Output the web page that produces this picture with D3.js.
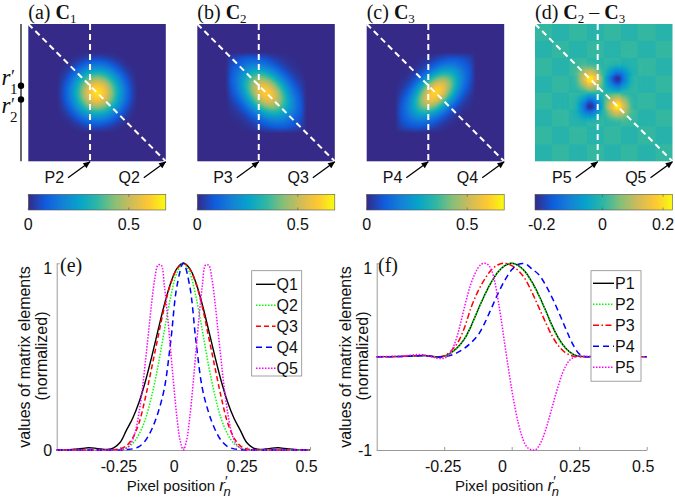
<!DOCTYPE html>
<html><head><meta charset="utf-8">
<script src="https://cdn.jsdelivr.net/npm/d3@7"></script>
<style>body{margin:0;background:#fff}svg{display:block}</style>
</head><body>
<svg id="c" width="675" height="504"></svg>
<script>
// ---------------- DATA ----------------
const parulaStops = ["#352a87","#0f5cdd","#1481d6","#06a4ca","#2eb7a4","#87bf77","#d1bb59","#fec832","#f9fb0e"];
const matrixGrid = [-0.25,-0.2,-0.15,-0.1,-0.05,0,0.05,0.1,0.15,0.2,0.25];
const C1 = [
 [0,0.004,0.014,0.032,0.048,0.055,0.048,0.032,0.014,0.004,0],
 [0.004,0.02,0.055,0.1,0.14,0.155,0.14,0.1,0.055,0.02,0.004],
 [0.014,0.055,0.125,0.207,0.269,0.293,0.269,0.207,0.125,0.055,0.014],
 [0.032,0.1,0.207,0.319,0.415,0.452,0.415,0.319,0.207,0.1,0.032],
 [0.048,0.14,0.269,0.415,0.538,0.587,0.538,0.415,0.269,0.14,0.048],
 [0.055,0.155,0.293,0.452,0.587,0.64,0.587,0.452,0.293,0.155,0.055],
 [0.048,0.14,0.269,0.415,0.538,0.587,0.538,0.415,0.269,0.14,0.048],
 [0.032,0.1,0.207,0.319,0.415,0.452,0.415,0.319,0.207,0.1,0.032],
 [0.014,0.055,0.125,0.207,0.269,0.293,0.269,0.207,0.125,0.055,0.014],
 [0.004,0.02,0.055,0.1,0.14,0.155,0.14,0.1,0.055,0.02,0.004],
 [0,0.004,0.014,0.032,0.048,0.055,0.048,0.032,0.014,0.004,0]];
const C2 = [
 [0.037,0.059,0.079,0.088,0.081,0.063,0.040,0.022,0.010,0.004,0.001],
 [0.059,0.101,0.144,0.172,0.171,0.142,0.098,0.056,0.027,0.011,0.004],
 [0.079,0.144,0.221,0.281,0.300,0.266,0.198,0.123,0.063,0.027,0.010],
 [0.088,0.172,0.281,0.385,0.439,0.418,0.333,0.221,0.123,0.056,0.022],
 [0.081,0.171,0.300,0.439,0.537,0.548,0.467,0.333,0.198,0.098,0.040],
 [0.063,0.142,0.266,0.418,0.548,0.6,0.548,0.418,0.266,0.142,0.063],
 [0.040,0.098,0.198,0.333,0.467,0.548,0.537,0.439,0.300,0.171,0.081],
 [0.022,0.056,0.123,0.221,0.333,0.418,0.439,0.385,0.281,0.172,0.088],
 [0.010,0.027,0.063,0.123,0.198,0.266,0.300,0.281,0.221,0.144,0.079],
 [0.004,0.011,0.027,0.056,0.098,0.142,0.171,0.172,0.144,0.101,0.059],
 [0.001,0.004,0.010,0.022,0.040,0.063,0.081,0.088,0.079,0.059,0.037]];
const C3 = [
 [0,0.001,0.002,0.007,0.017,0.036,0.057,0.073,0.074,0.060,0.038],
 [0.001,0.002,0.008,0.024,0.056,0.100,0.142,0.161,0.146,0.105,0.060],
 [0.002,0.008,0.027,0.069,0.139,0.222,0.281,0.284,0.228,0.146,0.074],
 [0.007,0.024,0.069,0.156,0.277,0.392,0.443,0.397,0.284,0.161,0.073],
 [0.017,0.056,0.139,0.277,0.438,0.553,0.555,0.443,0.281,0.142,0.057],
 [0.036,0.100,0.222,0.392,0.553,0.62,0.553,0.392,0.222,0.100,0.036],
 [0.057,0.142,0.281,0.443,0.555,0.553,0.438,0.277,0.139,0.056,0.017],
 [0.073,0.161,0.284,0.397,0.443,0.392,0.277,0.156,0.069,0.024,0.007],
 [0.074,0.146,0.228,0.284,0.281,0.222,0.139,0.069,0.027,0.008,0.002],
 [0.060,0.105,0.146,0.161,0.142,0.100,0.056,0.024,0.008,0.002,0.001],
 [0.038,0.060,0.074,0.073,0.057,0.036,0.017,0.007,0.002,0.001,0]];
const C23 = [
 [0,0,0.001,0.002,0.001,0,-0.001,-0.002,-0.001,0,0],
 [0,0.004,0.017,0.028,0.017,0,-0.017,-0.028,-0.017,-0.004,0],
 [0.001,0.017,0.076,0.127,0.076,0,-0.076,-0.127,-0.076,-0.017,-0.001],
 [0.002,0.028,0.127,0.21,0.125,0,-0.125,-0.21,-0.127,-0.028,-0.002],
 [0.001,0.017,0.076,0.125,0.074,0,-0.074,-0.125,-0.076,-0.017,-0.001],
 [0,0,0,0,0,0,0,0,0,0,0],
 [-0.001,-0.017,-0.076,-0.125,-0.074,0,0.074,0.125,0.076,0.017,0.001],
 [-0.002,-0.028,-0.127,-0.21,-0.125,0,0.125,0.21,0.127,0.028,0.002],
 [-0.001,-0.017,-0.076,-0.127,-0.076,0,0.076,0.127,0.076,0.017,0.001],
 [0,-0.004,-0.017,-0.028,-0.017,0,0.017,0.028,0.017,0.004,0],
 [0,0,-0.001,-0.002,-0.001,0,0.001,0.002,0.001,0,0]];
// faint block pattern in the background of C2 - C3 (8 x 8 blocks)
const C23blocks = [
 [0.008,-0.006,0.008,-0.006,0.008,-0.006,0.008,-0.006],
 [-0.006,0.008,-0.006,0.008,-0.006,0.008,-0.006,0.008],
 [0.008,-0.006,0.008,-0.006,0.008,-0.006,0.008,-0.006],
 [-0.006,0.008,-0.006,0.008,-0.006,0.008,-0.006,0.008],
 [0.008,-0.006,0.008,-0.006,0.008,-0.006,0.008,-0.006],
 [-0.006,0.008,-0.006,0.008,-0.006,0.008,-0.006,0.008],
 [0.008,-0.006,0.008,-0.006,0.008,-0.006,0.008,-0.006],
 [-0.006,0.008,-0.006,0.008,-0.006,0.008,-0.006,0.008]];
const cbarDomainPos = [0, 0.684];
const cbarDomainDiff = [-0.222, 0.231];
const cbarTicksPos = [0, 0.5];
const cbarTicksDiff = [-0.2, 0, 0.2];
const pColumns = [-0.051, -0.053, -0.052, -0.044];
const pLabels = ["P2","P3","P4","P5"];
const qLabels = ["Q2","Q3","Q4","Q5"];
const rowMarks = [-0.05, 0.05];

// line profiles
const xG = [-0.5,-0.45,-0.4,-0.375,-0.35,-0.325,-0.3,-0.275,-0.25,-0.225,-0.2,-0.175,-0.15,-0.125,-0.1,-0.075,-0.05,-0.025,0,0.025,0.05,0.075,0.1,0.125,0.15,0.175,0.2,0.225,0.25,0.275,0.3,0.325,0.35,0.375,0.4,0.45,0.5];
const xFine = [-0.5,-0.45,-0.4,-0.375,-0.35,-0.325,-0.3,-0.275,
 -0.25,-0.2375,-0.225,-0.2125,-0.2,-0.1875,-0.175,-0.1625,-0.15,-0.1375,-0.125,-0.1125,-0.1,-0.0875,-0.075,-0.0625,-0.05,-0.0375,-0.025,-0.0125,0,
 0.0125,0.025,0.0375,0.05,0.0625,0.075,0.0875,0.1,0.1125,0.125,0.1375,0.15,0.1625,0.175,0.1875,0.2,0.2125,0.225,0.2375,0.25,
 0.275,0.3,0.325,0.35,0.375,0.4,0.45,0.5];
const Q1 = [0,0.002,0.008,0.012,0.01,0.005,0.003,0.012,0.04,0.105,0.17,0.256,0.367,0.499,0.641,0.778,0.895,0.973,1,0.973,0.895,0.778,0.641,0.499,0.367,0.256,0.17,0.105,0.04,0.012,0.003,0.005,0.01,0.012,0.008,0.002,0];
const Q2 = [0,0,0,0,0,0,0,0.001,0.004,0.012,0.035,0.085,0.165,0.29,0.45,0.64,0.82,0.95,1,0.95,0.82,0.64,0.45,0.29,0.165,0.085,0.035,0.012,0.004,0.001,0,0,0,0,0,0,0];
const Q3 = [0,0,0,0,0,0,0,0.002,0.006,0.022,0.065,0.145,0.28,0.44,0.605,0.765,0.89,0.97,1,0.97,0.89,0.765,0.605,0.44,0.28,0.145,0.065,0.022,0.006,0.002,0,0,0,0,0,0,0];
const Q4 = [0,0,0,0,0,0,0,0,0,0.002,0.006,0.018,0.05,0.11,0.2,0.33,0.58,0.88,1,0.88,0.58,0.33,0.2,0.11,0.05,0.018,0.006,0.002,0,0,0,0,0,0,0,0,0];
const Q5 = [0,0,0,0,0,0,0,0,
 0,0.003,0.01,0.025,0.055,0.11,0.2,0.32,0.47,0.63,0.79,0.92,0.99,0.99,0.88,0.72,0.53,0.34,0.17,0.05,0,
 0.05,0.17,0.34,0.53,0.72,0.88,0.99,0.99,0.92,0.79,0.63,0.47,0.32,0.2,0.11,0.055,0.025,0.01,0.003,0,
 0,0,0,0,0,0,0,0];
const P1 = [0,0,0.003,0.007,0.01,0.012,0.005,-0.004,0.005,0.04,0.1,0.19,0.33,0.5,0.66,0.8,0.91,0.975,1,0.975,0.91,0.8,0.66,0.5,0.33,0.19,0.09,0.03,0.004,0,0,0,0,0,0,0,0];
const P2 = [0,0,0.003,0.007,0.01,0.012,0.005,-0.004,0.005,0.04,0.1,0.19,0.33,0.5,0.66,0.8,0.91,0.975,1,0.975,0.905,0.795,0.655,0.495,0.325,0.185,0.088,0.03,0.004,0,0,0,0,0,0,0,0];
const P3 = [0,0,0.003,0.007,0.01,0.012,0.005,-0.003,0.01,0.06,0.15,0.31,0.53,0.7,0.83,0.93,0.985,1.0,0.975,0.92,0.83,0.69,0.53,0.37,0.22,0.11,0.04,0.008,0,0,0,0,0,0,0,0,0];
const P4 = [0,0,0.003,0.006,0.008,0.01,0.004,-0.004,0,0.015,0.045,0.09,0.15,0.23,0.36,0.52,0.68,0.82,0.93,0.99,0.995,0.94,0.88,0.77,0.63,0.47,0.3,0.14,0.03,0,0,0,0,0,0,0,0];
const P5 = [0,0.002,0.008,0.015,0.022,0.018,0.002,-0.018,
 -0.015,0.005,0.05,0.13,0.24,0.38,0.53,0.67,0.79,0.88,0.95,0.99,1.0,0.985,0.93,0.8,0.6,0.37,0.12,-0.12,-0.35,
 -0.55,-0.72,-0.85,-0.94,-0.985,-0.998,-0.998,-0.96,-0.89,-0.79,-0.67,-0.54,-0.41,-0.29,-0.18,-0.1,-0.045,-0.015,0,0.005,
 0.005,0.002,0,0,0,0,0,0];
const xTicks = [-0.25, 0, 0.25, 0.5];
const legendQ = ["Q1","Q2","Q3","Q4","Q5"];
const legendP = ["P1","P2","P3","P4","P5"];

// ---------------- STYLE ----------------
const SANS = "'Liberation Sans', Arial, sans-serif";
const SERIF = "'Liberation Serif', 'Times New Roman', serif";
const lineStyles = [
 {color:"#000000", dash:null, w:1.4},
 {color:"#00ff00", dash:"1.5 1.5", w:1.5},
 {color:"#ff0000", dash:"5 3", w:1.5},
 {color:"#0000ff", dash:"6 4", w:1.5},
 {color:"#ff00ff", dash:"1.5 1.5", w:1.5}];
const lineStylesP = lineStyles.map((s,i)=> i===2 ? {color:"#ff0000", dash:"6 2.5 1.5 2.5", w:1.5} : s);
const tickLabelDx = [-1.5,-9.7,-5,-4];

const svg = d3.select("#c");
const defs = svg.append("defs");
defs.append("marker").attr("id","ah").attr("markerUnits","userSpaceOnUse")
 .attr("viewBox","0 0 10 10").attr("refX",9.5).attr("refY",5)
 .attr("markerWidth",8).attr("markerHeight",7).attr("orient","auto")
 .append("path").attr("d","M0,0.5 L10,5 L0,9.5 z").attr("fill","#000");

// ---------------- HEATMAPS ----------------
const panels = [
 {x0:28.3, M:C1, dom:cbarDomainPos, ticks:cbarTicksPos, lab:"(a) ", subs:["1"]},
 {x0:197.3, M:C2, dom:cbarDomainPos, ticks:cbarTicksPos, lab:"(b) ", subs:["2"]},
 {x0:366.7, M:C3, dom:cbarDomainPos, ticks:cbarTicksPos, lab:"(c) ", subs:["3"]},
 {x0:535, M:C23, B:C23blocks, dom:cbarDomainDiff, ticks:cbarTicksDiff, lab:"(d) ", subs:["2","3"]}];
const PW = 137.5, PH = 137.3, PY = 24;
const CBY = 194.3, CBH = 15.7;

function cw(t){const t2=t*t,t3=t2*t;return [(-t3+2*t2-t)/2,(3*t3-5*t2+2)/2,(-3*t3+4*t2+t)/2,(t3-t2)/2];}
function sampleGrid(M, r1, r2){
 const n=matrixGrid.length, step=matrixGrid[1]-matrixGrid[0], r0=matrixGrid[0];
 const fi=(r1-r0)/step, fj=(r2-r0)/step;
 const i0=Math.floor(fi), j0=Math.floor(fj);
 const wi=cw(fi-i0), wj=cw(fj-j0);
 let s=0;
 for(let a=0;a<4;a++){const i=i0-1+a; if(i<0||i>=n) continue;
  for(let b=0;b<4;b++){const j=j0-1+b; if(j<0||j>=n) continue; s+=wi[a]*wj[b]*M[i][j];}}
 return s;
}

panels.forEach((p,k)=>{
 const cs = d3.scaleLinear()
  .domain(parulaStops.map((_,i)=>p.dom[0]+(p.dom[1]-p.dom[0])*i/(parulaStops.length-1)))
  .range(parulaStops).clamp(true);
 const N = 138;
 const pix = d3.scaleLinear().domain([0,N]).range([-0.5,0.5]);
 const blk = d3.scaleQuantize().domain([-0.5,0.5]).range(d3.range(8));
 const cv = document.createElement("canvas"); cv.width=N; cv.height=N;
 const ctx = cv.getContext("2d"); const img = ctx.createImageData(N,N);
 for(let py=0;py<N;py++){ const r1=pix(py+0.5);
  for(let px=0;px<N;px++){ const r2=pix(px+0.5);
   let v = sampleGrid(p.M, r1, r2); if(k<3) v=Math.max(0,v);
   if(p.B) v += p.B[blk(r1)][blk(r2)];
   const c = d3.rgb(cs(v)); const o=(py*N+px)*4;
   img.data[o]=c.r; img.data[o+1]=c.g; img.data[o+2]=c.b; img.data[o+3]=255; }}
 ctx.putImageData(img,0,0);
 svg.append("image").attr("x",p.x0).attr("y",PY).attr("width",PW).attr("height",PH)
  .attr("preserveAspectRatio","none").attr("href",cv.toDataURL());

 const sx = d3.scaleLinear().domain([-0.5,0.5]).range([p.x0,p.x0+PW]);
 const sy = d3.scaleLinear().domain([-0.5,0.5]).range([PY,PY+PH]);
 svg.append("line").attr("x1",sx(pColumns[k])).attr("x2",sx(pColumns[k])).attr("y1",sy(-0.5)).attr("y2",sy(0.5))
  .attr("stroke","#fff").attr("stroke-width",2).attr("stroke-dasharray","6 4");
 svg.append("line").attr("x1",sx(-0.5)).attr("y1",sy(-0.5)).attr("x2",sx(0.5)).attr("y2",sy(0.5))
  .attr("stroke","#fff").attr("stroke-width",2).attr("stroke-dasharray","6 4");
 const arrows = [[sx(pColumns[k]), pLabels[k]],[sx(0.5), qLabels[k]]];
 arrows.forEach(([ax,lab])=>{
  svg.append("line").attr("x1",ax-22).attr("y1",PY+PH+16.5).attr("x2",ax).attr("y2",PY+PH+0.5)
   .attr("stroke","#000").attr("stroke-width",1.3).attr("marker-end","url(#ah)");
  svg.append("text").attr("x",ax-26).attr("y",183).attr("text-anchor","end")
   .attr("font-family",SANS).attr("font-size",16).attr("fill","#111").text(lab);
 });
 const t = svg.append("text").attr("x",p.x0).attr("y",18.5).attr("font-family",SERIF).attr("font-size",20).attr("fill","#111");
 t.append("tspan").text(p.lab);
 t.append("tspan").attr("font-weight","bold").text("C");
 t.append("tspan").attr("font-size",13).attr("dy",4).text(p.subs[0]);
 if(p.subs.length>1){
  t.append("tspan").attr("dy",-4).text(" \u2013 ");
  t.append("tspan").attr("font-weight","bold").text("C");
  t.append("tspan").attr("font-size",13).attr("dy",4).text(p.subs[1]);
 }
 const gid = "cb"+k;
 const gr = defs.append("linearGradient").attr("id",gid).attr("x1","0%").attr("x2","100%").attr("y1","0%").attr("y2","0%");
 parulaStops.forEach((c,i)=>gr.append("stop").attr("offset",(100*i/(parulaStops.length-1))+"%").attr("stop-color",c));
 svg.append("rect").attr("x",p.x0).attr("y",CBY).attr("width",PW).attr("height",CBH)
  .attr("fill",`url(#${gid})`).attr("stroke","#555").attr("stroke-width",0.6);
 const cx = d3.scaleLinear().domain(p.dom).range([p.x0,p.x0+PW]);
 p.ticks.forEach(tv=>{
  svg.append("line").attr("x1",cx(tv)).attr("x2",cx(tv)).attr("y1",CBY).attr("y2",CBY+2.5).attr("stroke","#555").attr("stroke-width",0.6);
  svg.append("line").attr("x1",cx(tv)).attr("x2",cx(tv)).attr("y1",CBY+CBH).attr("y2",CBY+CBH-2.5).attr("stroke","#555").attr("stroke-width",0.6);
  svg.append("text").attr("x",cx(tv)).attr("y",229.5).attr("text-anchor","middle")
   .attr("font-family",SANS).attr("font-size",16).attr("fill","#111").text(String(tv));
 });
});

// left r' annotation
{
 const sy = d3.scaleLinear().domain([-0.5,0.5]).range([PY,PY+PH]);
 svg.append("line").attr("x1",21).attr("x2",21).attr("y1",sy(-0.5)).attr("y2",sy(0.5)).attr("stroke","#444").attr("stroke-width",1.6);
 rowMarks.forEach(r=>{
  svg.append("circle").attr("cx",21).attr("cy",sy(r)).attr("r",3.2).attr("fill","#000");
 });
 [[85,"1"],[113,"2"]].forEach(([by,s])=>{
  const tx = svg.append("text").attr("x",1.5).attr("y",by).attr("font-family",SERIF).attr("font-size",23).attr("fill","#111");
  tx.append("tspan").attr("font-style","italic").text("r");
  tx.append("tspan").attr("font-size",18).attr("dx",0.5).attr("dy",-2).text("\u2032");
  tx.append("tspan").attr("font-size",15).attr("dx",-5).attr("dy",10.5).text(s);
 });
}

// ---------------- LINE PLOTS ----------------
function linePanel(cfg){
 const x = d3.scaleLinear().domain([-0.5,0.5]).range(cfg.xr);
 const y = d3.scaleLinear().domain(cfg.yd).range([450,263.3]);
 const g = svg.append("g");
 const ax = g.append("g").attr("transform","translate(0,450)")
  .call(d3.axisBottom(x).tickValues(xTicks).tickFormat(d=>String(d)).tickSizeInner(-3).tickSizeOuter(0).tickPadding(11));
 const ay = g.append("g").attr("transform",`translate(${cfg.xr[0]},0)`)
  .call(d3.axisLeft(y).tickValues(cfg.yt).tickFormat(d=>String(d)).tickSizeInner(-3).tickSizeOuter(0).tickPadding(4.5));
 [ax,ay].forEach(a=>{
  a.select(".domain").attr("stroke","#9a9a9a");
  a.selectAll(".tick line").attr("stroke","#9a9a9a");
  a.selectAll(".tick text").attr("font-family",SANS).attr("font-size",16).attr("fill","#111");
 });
 ax.selectAll(".tick text").attr("dx",(d,i)=>tickLabelDx[i]);
 ay.selectAll(".tick text").attr("dy",d=> d===1 ? "0.62em" : "0.32em");
 const ln = d3.line().x(d=>x(d[0])).y(d=>y(d[1])).curve(d3.curveCatmullRom.alpha(0.5));
 cfg.series.forEach((s,i)=>{
  const st = cfg.styles[i];
  g.append("path").datum(s.x.map((xv,j)=>[xv,s.y[j]])).attr("d",ln).attr("fill","none")
   .attr("stroke",st.color).attr("stroke-width",st.w).attr("stroke-dasharray",st.dash);
 });
 g.append("text").attr("x",cfg.labX).attr("y",272).attr("font-family",SERIF).attr("font-size",20).attr("fill","#111").text(cfg.label);
 const L = cfg.leg;
 g.append("rect").attr("x",L.x).attr("y",L.y).attr("width",L.w).attr("height",L.h).attr("fill","#fff").attr("stroke","#8a8a8a").attr("stroke-width",0.8);
 cfg.names.forEach((n,i)=>{
  const yy = L.row0 + i*21;
  const st = cfg.styles[i];
  g.append("line").attr("x1",L.lx0).attr("x2",L.lx1).attr("y1",yy).attr("y2",yy)
   .attr("stroke",st.color).attr("stroke-width",st.w).attr("stroke-dasharray",st.dash);
  g.append("text").attr("x",L.lx1+1).attr("y",yy).attr("dy","0.36em").attr("font-family",SANS).attr("font-size",16).attr("fill","#111").text(n);
 });
 g.append("text").attr("transform",`translate(${cfg.ylx[0]},357) rotate(-90)`).attr("text-anchor","middle")
  .attr("font-family",SANS).attr("font-size",16).attr("fill","#111").text("values of matrix elements");
 g.append("text").attr("transform",`translate(${cfg.ylx[1]},356) rotate(-90)`).attr("text-anchor","middle")
  .attr("font-family",SANS).attr("font-size",16).attr("fill","#111").text("(normalized)");
 const xl = g.append("text").attr("x",cfg.xlx).attr("y",491).attr("font-family",SANS).attr("font-size",15).attr("fill","#111");
 xl.append("tspan").text("Pixel position ");
 xl.append("tspan").attr("font-style","italic").attr("font-size",17).text("r");
 xl.append("tspan").attr("font-size",14).attr("dy",-5).text("\u2032");
 xl.append("tspan").attr("font-style","italic").attr("font-size",13).attr("dy",10).attr("dx",-4).text("n");
}

linePanel({xr:[56.7,310], yd:[0,1], yt:[0,1], label:"(e)", labX:60,
 series:[{x:xG,y:Q1},{x:xG,y:Q2},{x:xG,y:Q3},{x:xG,y:Q4},{x:xFine,y:Q5}],
 styles:lineStyles, names:legendQ,
 leg:{x:251.7,y:270.7,w:50,h:105.3,row0:284.3,lx0:256,lx1:275.5},
 ylx:[29.5,47], xlx:126.7});
linePanel({xr:[376.7,646.7], yd:[-1,1], yt:[-1,1], label:"(f)", labX:378,
 series:[{x:xG,y:P1},{x:xG,y:P2},{x:xG,y:P3},{x:xG,y:P4},{x:xFine,y:P5}],
 styles:lineStylesP, names:legendP,
 leg:{x:591,y:270.7,w:50,h:110.5,row0:283.3,lx0:593,lx1:614},
 ylx:[351,367.5], xlx:455});
</script>
</body></html>
